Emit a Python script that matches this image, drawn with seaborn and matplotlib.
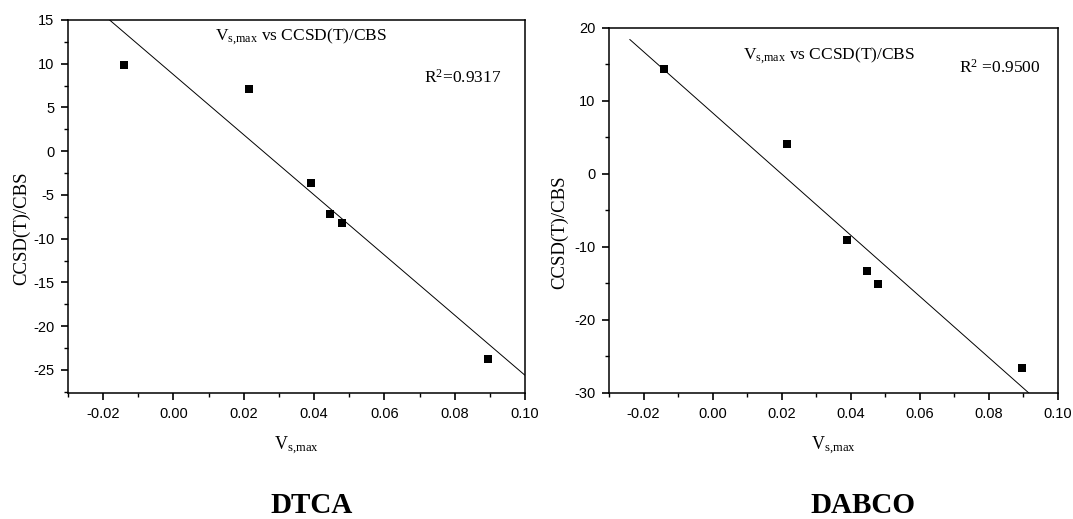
import numpy as np
import pandas as pd
import matplotlib
matplotlib.use("Agg")
import matplotlib.pyplot as plt
from matplotlib.ticker import MultipleLocator, FormatStrFormatter
import seaborn as sns

# V_s,max values shared by both systems
vs_max = [-0.0142, 0.0214, 0.0390, 0.0446, 0.0478, 0.0895]
# CCSD(T)/CBS energies
dtca_energy = [9.9, 7.07, -3.67, -7.16, -8.22, -23.8]
dabco_energy = [14.36, 4.13, -9.04, -13.35, -15.05, -26.56]
# reported fit quality
dtca_r2 = "0.9317"
dabco_r2 = "0.9500"
# x range over which the regression line is evaluated
fit_range = [-0.024, 0.10]

sns.set_theme(style="ticks")
plt.rcParams["font.family"] = ["Liberation Sans", "DejaVu Sans"]
plt.rcParams["axes.unicode_minus"] = False
plt.rcParams["mathtext.fontset"] = "custom"
plt.rcParams["mathtext.rm"] = "Liberation Serif"
plt.rcParams["mathtext.it"] = "Liberation Serif:italic"

SERIF = "Liberation Serif"
VSMAX = r"V$_{\mathrm{s{,}max}}$"

fig = plt.figure(figsize=(10.73, 5.19), dpi=100)
ax_l = fig.add_axes([0.0634, 0.2434, 0.4259, 0.7181])
ax_r = fig.add_axes([0.5676, 0.2434, 0.4184, 0.7027])


def draw_panel(ax, energy, r2_label, ylim, ymajor, title_xy, r2_xy, ylab_x):
    df = pd.DataFrame({"vs": vs_max, "e": energy})
    slope, intercept = np.polyfit(df["vs"], df["e"], 1)
    fx = np.array(fit_range)
    fit = pd.DataFrame({"vs": fx, "e": intercept + slope * fx})
    sns.lineplot(data=fit, x="vs", y="e", ax=ax, color="black", lw=0.7,
                 estimator=None, sort=False)
    sns.scatterplot(data=df, x="vs", y="e", ax=ax, marker="s", s=30,
                    color="black", edgecolor="black", linewidth=0, zorder=3)

    ax.set_xlim(-0.03, 0.10)
    ax.set_ylim(*ylim)
    ax.xaxis.set_major_locator(MultipleLocator(0.02))
    ax.xaxis.set_minor_locator(MultipleLocator(0.01))
    ax.xaxis.set_major_formatter(FormatStrFormatter("%.2f"))
    ax.yaxis.set_major_locator(MultipleLocator(ymajor))
    ax.yaxis.set_minor_locator(MultipleLocator(ymajor / 2))
    ax.tick_params(axis="both", which="major", direction="out", length=5,
                   width=1.2, labelsize=10.5, pad=5, color="black",
                   labelcolor="black")
    ax.tick_params(axis="both", which="minor", direction="out", length=3,
                   width=1.0, color="black")
    ax.tick_params(top=False, right=False, which="both")
    for side in ax.spines.values():
        side.set_visible(True)
        side.set_linewidth(1.1)
        side.set_color("black")
    ax.set_xlabel(VSMAX, family=SERIF, fontsize=13, labelpad=10,
                  color="black")
    ax.set_ylabel("CCSD(T)/CBS", family=SERIF, fontsize=13.5, color="black")
    ax.yaxis.set_label_coords(ylab_x, 0.44)
    ax.text(title_xy[0], title_xy[1], VSMAX + " vs CCSD(T)/CBS",
            transform=ax.transAxes, family=SERIF, fontsize=12.5,
            ha="center", va="center", color="black")
    ax.text(r2_xy[0], r2_xy[1], r2_label, transform=ax.transAxes,
            family=SERIF, fontsize=12.5, ha="left", va="center",
            color="black")


draw_panel(ax_l, dtca_energy, r"R$^{2}$=" + dtca_r2, (-27.6, 15), 5,
           (0.51, 0.955), (0.78, 0.845), -0.083)
draw_panel(ax_r, dabco_energy, r"R$^{2}$ =" + dabco_r2, (-30, 20), 10,
           (0.49, 0.925), (0.78, 0.89), -0.09)

fig.text(0.290, 0.012, "DTCA", family=SERIF, fontsize=21, weight="bold",
         ha="center", va="baseline", color="black")
fig.text(0.804, 0.012, "DABCO", family=SERIF, fontsize=21, weight="bold",
         ha="center", va="baseline", color="black")

fig.savefig("out.png", dpi=100, facecolor="white")
